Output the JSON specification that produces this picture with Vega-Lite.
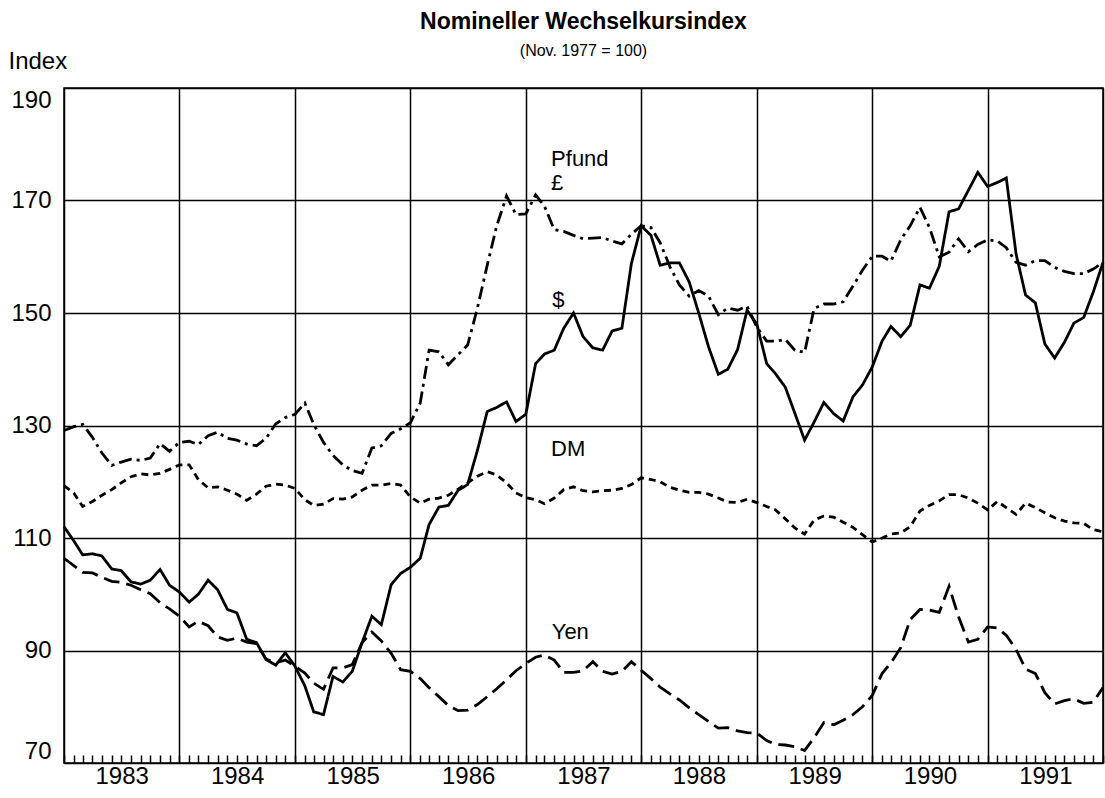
{
  "$schema": "https://vega.github.io/schema/vega-lite/v6.json",
  "width": 1039,
  "height": 675,
  "autosize": "none",
  "padding": {"left": 64, "top": 88, "right": 2, "bottom": 35},
  "background": "white",
  "config": {
    "font": "Liberation Sans",
    "view": {"stroke": "#000", "strokeWidth": 1.5}
  },
  "title": {
    "text": "Nomineller Wechselkursindex",
    "subtitle": "(Nov. 1977 = 100)",
    "anchor": "middle",
    "font": "Liberation Sans",
    "fontSize": 23,
    "fontWeight": "bold",
    "color": "#000",
    "subtitleFont": "Liberation Sans",
    "subtitleFontSize": 16,
    "subtitleColor": "#000",
    "subtitlePadding": 9,
    "offset": -10
  },
  "datasets": {
    "fx": [
      {"date": "1983-01-01", "usd": 112, "gbp": 129.1, "dm": 119.3, "yen": 106.4},
      {"date": "1983-02-01", "usd": 109.5, "gbp": 129.8, "dm": 118, "yen": 105.1},
      {"date": "1983-03-01", "usd": 107, "gbp": 130.2, "dm": 115.6, "yen": 103.9},
      {"date": "1983-04-01", "usd": 107.2, "gbp": 127.9, "dm": 116.5, "yen": 103.8},
      {"date": "1983-05-01", "usd": 106.8, "gbp": 125.1, "dm": 117.6, "yen": 103},
      {"date": "1983-06-01", "usd": 104.5, "gbp": 122.9, "dm": 118.6, "yen": 102.3},
      {"date": "1983-07-01", "usd": 104.2, "gbp": 123.5, "dm": 119.8, "yen": 102.1},
      {"date": "1983-08-01", "usd": 102.2, "gbp": 124, "dm": 120.9, "yen": 101.6},
      {"date": "1983-09-01", "usd": 101.8, "gbp": 123.8, "dm": 121.4, "yen": 100.8},
      {"date": "1983-10-01", "usd": 102.5, "gbp": 124.2, "dm": 121.2, "yen": 100.1},
      {"date": "1983-11-01", "usd": 104.4, "gbp": 126.8, "dm": 121.5, "yen": 98.5},
      {"date": "1983-12-01", "usd": 101.6, "gbp": 125.4, "dm": 122.2, "yen": 97.4},
      {"date": "1984-01-01", "usd": 100.4, "gbp": 127, "dm": 123, "yen": 96.1},
      {"date": "1984-02-01", "usd": 98.6, "gbp": 127.2, "dm": 123, "yen": 94.2},
      {"date": "1984-03-01", "usd": 100, "gbp": 126.6, "dm": 120.4, "yen": 95.2},
      {"date": "1984-04-01", "usd": 102.5, "gbp": 128.2, "dm": 118.9, "yen": 94.4},
      {"date": "1984-05-01", "usd": 100.8, "gbp": 128.8, "dm": 119.1, "yen": 92.4},
      {"date": "1984-06-01", "usd": 97.3, "gbp": 127.7, "dm": 118.5, "yen": 91.8},
      {"date": "1984-07-01", "usd": 96.7, "gbp": 127.4, "dm": 117.8, "yen": 92.2},
      {"date": "1984-08-01", "usd": 92, "gbp": 126.7, "dm": 116.7, "yen": 91.5},
      {"date": "1984-09-01", "usd": 91.4, "gbp": 126.4, "dm": 117.8, "yen": 91.2},
      {"date": "1984-10-01", "usd": 88.4, "gbp": 127.7, "dm": 119.2, "yen": 88.5},
      {"date": "1984-11-01", "usd": 87.4, "gbp": 130.3, "dm": 119.6, "yen": 87.8},
      {"date": "1984-12-01", "usd": 89.6, "gbp": 131.4, "dm": 119.4, "yen": 88.3},
      {"date": "1985-01-01", "usd": 87.2, "gbp": 132, "dm": 118.8, "yen": 87.2},
      {"date": "1985-02-01", "usd": 83.7, "gbp": 134, "dm": 116.8, "yen": 86},
      {"date": "1985-03-01", "usd": 79.1, "gbp": 130.2, "dm": 115.8, "yen": 84.2},
      {"date": "1985-04-01", "usd": 78.6, "gbp": 127, "dm": 116, "yen": 83.1},
      {"date": "1985-05-01", "usd": 85.4, "gbp": 124.7, "dm": 117, "yen": 86.9},
      {"date": "1985-06-01", "usd": 84.4, "gbp": 123, "dm": 116.9, "yen": 86.9},
      {"date": "1985-07-01", "usd": 86.3, "gbp": 122, "dm": 117.3, "yen": 87.5},
      {"date": "1985-08-01", "usd": 91.4, "gbp": 121.5, "dm": 118.5, "yen": 91.4},
      {"date": "1985-09-01", "usd": 96.1, "gbp": 126, "dm": 119.4, "yen": 93.3},
      {"date": "1985-10-01", "usd": 94.6, "gbp": 126.4, "dm": 119.4, "yen": 91.7},
      {"date": "1985-11-01", "usd": 101.7, "gbp": 128.6, "dm": 119.7, "yen": 89.5},
      {"date": "1985-12-01", "usd": 103.7, "gbp": 129.4, "dm": 119.4, "yen": 86.6},
      {"date": "1986-01-01", "usd": 104.8, "gbp": 130.5, "dm": 117.3, "yen": 86.3},
      {"date": "1986-02-01", "usd": 106.4, "gbp": 134, "dm": 116.2, "yen": 85},
      {"date": "1986-03-01", "usd": 112.4, "gbp": 143.4, "dm": 116.9, "yen": 83.4},
      {"date": "1986-04-01", "usd": 115.5, "gbp": 143.1, "dm": 117.1, "yen": 81.8},
      {"date": "1986-05-01", "usd": 115.8, "gbp": 140.8, "dm": 117.6, "yen": 80.2},
      {"date": "1986-06-01", "usd": 118.5, "gbp": 142.6, "dm": 118.7, "yen": 79.3},
      {"date": "1986-07-01", "usd": 119.5, "gbp": 144.3, "dm": 119.8, "yen": 79.4},
      {"date": "1986-08-01", "usd": 125.6, "gbp": 150.9, "dm": 121, "yen": 80.4},
      {"date": "1986-09-01", "usd": 132.5, "gbp": 158.5, "dm": 121.8, "yen": 81.8},
      {"date": "1986-10-01", "usd": 133.2, "gbp": 165.5, "dm": 121.2, "yen": 83.2},
      {"date": "1986-11-01", "usd": 134.2, "gbp": 170.8, "dm": 119.8, "yen": 84.8},
      {"date": "1986-12-01", "usd": 130.7, "gbp": 167.5, "dm": 118, "yen": 86.4},
      {"date": "1987-01-01", "usd": 132, "gbp": 167.6, "dm": 117.2, "yen": 87.7},
      {"date": "1987-02-01", "usd": 141, "gbp": 171, "dm": 116.8, "yen": 88.8},
      {"date": "1987-03-01", "usd": 142.7, "gbp": 169, "dm": 116.1, "yen": 89.2},
      {"date": "1987-04-01", "usd": 143.4, "gbp": 164.8, "dm": 117.1, "yen": 88.3},
      {"date": "1987-05-01", "usd": 147.3, "gbp": 164.5, "dm": 118.6, "yen": 86.1},
      {"date": "1987-06-01", "usd": 150, "gbp": 163.8, "dm": 119.1, "yen": 86.1},
      {"date": "1987-07-01", "usd": 145.8, "gbp": 163.2, "dm": 118.4, "yen": 86.4},
      {"date": "1987-08-01", "usd": 143.8, "gbp": 163.3, "dm": 118.2, "yen": 88},
      {"date": "1987-09-01", "usd": 143.4, "gbp": 163.4, "dm": 118.4, "yen": 86.3},
      {"date": "1987-10-01", "usd": 146.8, "gbp": 162.8, "dm": 118.5, "yen": 85.8},
      {"date": "1987-11-01", "usd": 147.3, "gbp": 162.3, "dm": 118.8, "yen": 86.3},
      {"date": "1987-12-01", "usd": 158.8, "gbp": 164, "dm": 119.5, "yen": 88},
      {"date": "1988-01-01", "usd": 165.5, "gbp": 165.5, "dm": 120.7, "yen": 86.5},
      {"date": "1988-02-01", "usd": 163.8, "gbp": 165.2, "dm": 120.4, "yen": 85},
      {"date": "1988-03-01", "usd": 158.5, "gbp": 162.5, "dm": 120, "yen": 83.5},
      {"date": "1988-04-01", "usd": 158.9, "gbp": 158.2, "dm": 119, "yen": 82.3},
      {"date": "1988-05-01", "usd": 158.9, "gbp": 155, "dm": 118.5, "yen": 81.2},
      {"date": "1988-06-01", "usd": 155.5, "gbp": 153, "dm": 118.1, "yen": 79.8},
      {"date": "1988-07-01", "usd": 150, "gbp": 154, "dm": 118.1, "yen": 78.6},
      {"date": "1988-08-01", "usd": 144, "gbp": 153, "dm": 117.8, "yen": 77.4},
      {"date": "1988-09-01", "usd": 139.1, "gbp": 149.7, "dm": 117.1, "yen": 76.2},
      {"date": "1988-10-01", "usd": 140, "gbp": 150.9, "dm": 116.4, "yen": 76.3},
      {"date": "1988-11-01", "usd": 143.5, "gbp": 150.5, "dm": 116.3, "yen": 75.7},
      {"date": "1988-12-01", "usd": 150.5, "gbp": 151.2, "dm": 116.9, "yen": 75.4},
      {"date": "1989-01-01", "usd": 148, "gbp": 147.5, "dm": 116.3, "yen": 75.3},
      {"date": "1989-02-01", "usd": 141, "gbp": 145, "dm": 115.6, "yen": 74},
      {"date": "1989-03-01", "usd": 139.2, "gbp": 145, "dm": 115, "yen": 73.3},
      {"date": "1989-04-01", "usd": 136.8, "gbp": 145.3, "dm": 113.4, "yen": 73.2},
      {"date": "1989-05-01", "usd": 132.2, "gbp": 143.4, "dm": 111.8, "yen": 72.9},
      {"date": "1989-06-01", "usd": 127.4, "gbp": 143, "dm": 110.7, "yen": 72.2},
      {"date": "1989-07-01", "usd": 130.6, "gbp": 150.8, "dm": 113.2, "yen": 74.5},
      {"date": "1989-08-01", "usd": 134.1, "gbp": 151.6, "dm": 113.9, "yen": 77.2},
      {"date": "1989-09-01", "usd": 132.1, "gbp": 151.6, "dm": 113.7, "yen": 76.8},
      {"date": "1989-10-01", "usd": 130.8, "gbp": 152, "dm": 112.8, "yen": 77.6},
      {"date": "1989-11-01", "usd": 135.1, "gbp": 154.8, "dm": 111.9, "yen": 78.6},
      {"date": "1989-12-01", "usd": 137.2, "gbp": 157.6, "dm": 110.6, "yen": 80},
      {"date": "1990-01-01", "usd": 140.4, "gbp": 160.1, "dm": 109.3, "yen": 82},
      {"date": "1990-02-01", "usd": 145, "gbp": 160.1, "dm": 110, "yen": 85.9},
      {"date": "1990-03-01", "usd": 147.6, "gbp": 159.2, "dm": 110.7, "yen": 87.8},
      {"date": "1990-04-01", "usd": 145.8, "gbp": 163, "dm": 110.9, "yen": 90.5},
      {"date": "1990-05-01", "usd": 147.8, "gbp": 165.5, "dm": 112, "yen": 95.5},
      {"date": "1990-06-01", "usd": 155, "gbp": 168.8, "dm": 114.8, "yen": 97.3},
      {"date": "1990-07-01", "usd": 154.4, "gbp": 165.2, "dm": 115.8, "yen": 97.2},
      {"date": "1990-08-01", "usd": 158.3, "gbp": 160, "dm": 116.6, "yen": 96.8},
      {"date": "1990-09-01", "usd": 168, "gbp": 160.8, "dm": 117.7, "yen": 101.4},
      {"date": "1990-10-01", "usd": 168.5, "gbp": 163.2, "dm": 117.7, "yen": 96},
      {"date": "1990-11-01", "usd": 171.8, "gbp": 160.9, "dm": 117.1, "yen": 91.5},
      {"date": "1990-12-01", "usd": 175, "gbp": 162.2, "dm": 116.2, "yen": 92},
      {"date": "1991-01-01", "usd": 172.5, "gbp": 163, "dm": 115, "yen": 94.2},
      {"date": "1991-02-01", "usd": 173.2, "gbp": 162.8, "dm": 116.5, "yen": 94},
      {"date": "1991-03-01", "usd": 174, "gbp": 161.6, "dm": 115.4, "yen": 92.7},
      {"date": "1991-04-01", "usd": 160.5, "gbp": 159, "dm": 114.2, "yen": 90.2},
      {"date": "1991-05-01", "usd": 153.2, "gbp": 158.5, "dm": 116.2, "yen": 86.7},
      {"date": "1991-06-01", "usd": 151.8, "gbp": 159.3, "dm": 115.4, "yen": 85.9},
      {"date": "1991-07-01", "usd": 144.5, "gbp": 159.3, "dm": 114.5, "yen": 82.5},
      {"date": "1991-08-01", "usd": 142, "gbp": 158.1, "dm": 113.6, "yen": 80.5},
      {"date": "1991-09-01", "usd": 144.8, "gbp": 157.4, "dm": 113, "yen": 81.1},
      {"date": "1991-10-01", "usd": 148.2, "gbp": 157, "dm": 112.7, "yen": 81.4},
      {"date": "1991-11-01", "usd": 149.2, "gbp": 157, "dm": 112.6, "yen": 80.6},
      {"date": "1991-12-01", "usd": 153.7, "gbp": 157.8, "dm": 111.5, "yen": 80.8},
      {"date": "1992-01-01", "usd": 159, "gbp": 159, "dm": 111.1, "yen": 83.4}
    ],
    "labels": [
      {"date": "1987-03-22", "value": 177.3, "label": "Pfund"},
      {"date": "1987-03-22", "value": 173.1, "label": "£"},
      {"date": "1987-03-26", "value": 152.3, "label": "$"},
      {"date": "1987-03-22", "value": 125.8, "label": "DM"},
      {"date": "1987-03-24", "value": 93.3, "label": "Yen"}
    ]
  },
  "encoding": {
    "x": {
      "field": "date",
      "type": "temporal",
      "title": null,
      "scale": {
        "type": "utc",
        "domain": [
          {"year": 1983, "month": 1, "date": 1, "utc": true},
          {"year": 1992, "month": 1, "date": 1, "utc": true}
        ]
      },
      "axis": {
        "tickCount": {"interval": "month", "step": 1},
        "tickSize": -8,
        "tickWidth": 1.5,
        "tickColor": "#000",
        "grid": true,
        "gridColor": "#000",
        "gridWidth": 1.5,
        "gridOpacity": {"condition": {"test": "utcmonth(datum.value) == 0", "value": 1}, "value": 0},
        "domain": false,
        "labelExpr": "utcmonth(datum.value) == 0 && utcyear(datum.value) < 1992 ? utcFormat(datum.value, '%Y') : ''",
        "labelOffset": 57.7,
        "labelAlign": "center",
        "labelBaseline": "top",
        "labelOverlap": false,
        "labelFlush": false,
        "labelBound": false,
        "labelPadding": 9,
        "labelFontSize": 24,
        "labelColor": "#000",
        "labelFont": "Liberation Sans"
      }
    },
    "y": {
      "field": "value",
      "type": "quantitative",
      "scale": {"domain": [70, 190], "nice": false, "zero": false},
      "axis": {
        "values": [70, 90, 110, 130, 150, 170, 190],
        "tickSize": 0,
        "grid": true,
        "gridColor": "#000",
        "gridWidth": 1.5,
        "domain": false,
        "labelFlush": true,
        "labelPadding": 13,
        "labelFontSize": 24,
        "labelColor": "#000",
        "labelFont": "Liberation Sans",
        "title": "Index",
        "titleAngle": 0,
        "titleX": -56,
        "titleY": -20,
        "titleAlign": "left",
        "titleBaseline": "alphabetic",
        "titleFont": "Liberation Sans",
        "titleFontSize": 24,
        "titleFontWeight": "normal",
        "titleColor": "#000"
      }
    }
  },
  "layer": [
    {
      "data": {"name": "fx"},
      "transform": [{"fold": ["usd", "gbp", "dm", "yen"], "as": ["series", "value"]}],
      "mark": {"type": "line", "color": "#000", "strokeWidth": 2.8},
      "encoding": {
        "strokeDash": {
          "field": "series",
          "type": "nominal",
          "scale": {
            "domain": ["usd", "gbp", "dm", "yen"],
            "range": [[1, 0], [13, 5, 3, 5], [7, 5], [16, 7]]
          },
          "legend": null
        }
      }
    },
    {
      "data": {"name": "labels"},
      "mark": {"type": "text", "align": "left", "baseline": "middle", "fontSize": 22, "color": "#000", "font": "Liberation Sans"},
      "encoding": {"text": {"field": "label", "type": "nominal"}}
    }
  ]
}
